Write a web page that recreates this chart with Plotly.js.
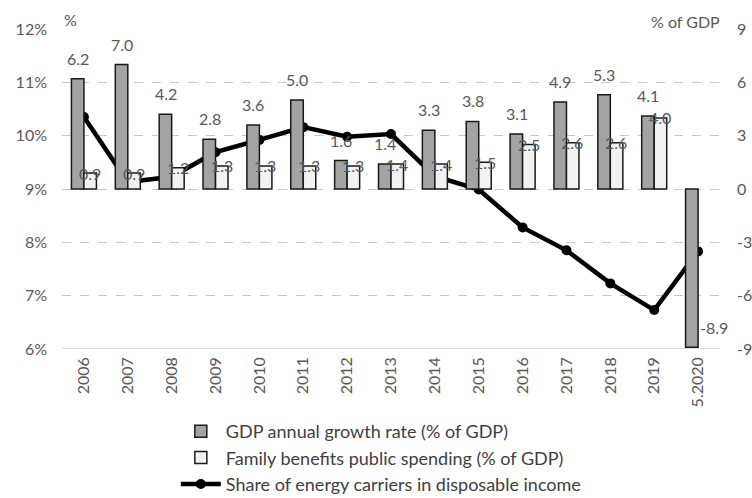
<!DOCTYPE html>
<html>
<head>
<meta charset="utf-8">
<script src="https://cdn.plot.ly/plotly-3.0.1.min.js"></script>
<style>html,body{margin:0;padding:0;background:#fff;}#chart{width:752px;height:498px;}</style>
</head>
<body>
<div id="chart"></div>
<script>
// ---- data ----
const categories = ["2006","2007","2008","2009","2010","2011","2012","2013","2014","2015","2016","2017","2018","2019","5.2020"];
const gdpGrowth = [6.2, 7.0, 4.2, 2.8, 3.6, 5.0, 1.6, 1.4, 3.3, 3.8, 3.1, 4.9, 5.3, 4.1, -8.9];
const familyBenefits = [0.9, 0.9, 1.2, 1.3, 1.3, 1.3, 1.3, 1.4, 1.4, 1.5, 2.5, 2.6, 2.6, 4.0, null];
const energyShare = [10.35, 9.13, 9.23, 9.69, 9.92, 10.16, 9.98, 10.03, 9.24, 8.99, 8.28, 7.85, 7.23, 6.73, 7.83];
const leftTicks = [6, 7, 8, 9, 10, 11, 12];
const rightTicks = [-9, -6, -3, 0, 3, 6, 9];

const FONT = "Lato, 'Open Sans', sans-serif";
const GREY = "#595959";

const traces = [
  {type: "bar", name: "GDP annual growth rate (% of GDP)", x: categories, y: gdpGrowth, yaxis: "y2",
   marker: {color: "#a3a3a3", line: {color: "#1a1a1a", width: 1.5}}, hoverinfo: "y"},
  {type: "bar", name: "Family benefits public spending (% of GDP)", x: categories, y: familyBenefits, yaxis: "y2",
   marker: {color: "#f2f2f2", line: {color: "#1a1a1a", width: 1.5}}, hoverinfo: "y"},
  {type: "scatter", mode: "lines+markers", name: "Share of energy carriers in disposable income", x: categories, y: energyShare, yaxis: "y",
   line: {color: "#000", width: 4.5}, marker: {color: "#000", size: 10}}
];

const annotations = [];
categories.forEach((c, i) => {
  const g = gdpGrowth[i];
  if (g >= 0) {
    annotations.push({x: i, y: g, xref: "x", yref: "y2", text: g.toFixed(1), showarrow: false,
      xanchor: "center", yanchor: "bottom", xshift: -6, yshift: 9, font: {family: FONT, size: 16, color: GREY}});
  } else {
    annotations.push({x: i, y: g, xref: "x", yref: "y2", text: g.toFixed(1), showarrow: false,
      xanchor: "left", yanchor: "bottom", xshift: 0, yshift: 8, font: {family: FONT, size: 16, color: GREY}});
  }
  const f = familyBenefits[i];
  if (f !== null) {
    annotations.push({x: i, y: f, xref: "x", yref: "y2", text: f.toFixed(1), showarrow: false,
      xanchor: "center", yanchor: "middle", xshift: 6, yshift: 0, font: {family: FONT, size: 16, color: GREY}});
  }
});
annotations.push({x: 0, y: 1, xref: "paper", yref: "paper", text: "%", showarrow: false,
  xanchor: "left", yanchor: "bottom", xshift: 0, yshift: -2, font: {family: FONT, size: 16, color: GREY}});
annotations.push({x: 1, y: 1, xref: "paper", yref: "paper", text: "% of GDP", showarrow: false,
  xanchor: "right", yanchor: "bottom", xshift: 2, yshift: -4, font: {family: FONT, size: 16, color: GREY}});

const layout = {
  width: 752, height: 498,
  margin: {l: 62, r: 32, t: 29, b: 149, autoexpand: false},
  paper_bgcolor: "#fff", plot_bgcolor: "#fff",
  font: {family: FONT, size: 16, color: GREY},
  barmode: "group", bargap: 0.43, bargroupgap: 0,
  showlegend: true,
  legend: {orientation: "v", x: 0.173, y: -0.2, xanchor: "left", yanchor: "top",
    font: {family: FONT, size: 18, color: "#404040"}, traceorder: "normal",
    itemwidth: 40, bgcolor: "rgba(0,0,0,0)"},
  xaxis: {type: "category", range: [-0.5, 14.5], autorange: false, tickangle: -90,
    tickfont: {family: FONT, size: 16, color: GREY},
    showgrid: false, showline: false, zeroline: false, ticks: "", ticklabelstandoff: 4},
  yaxis: {range: [6, 12], autorange: false, tickvals: leftTicks, ticktext: leftTicks.map(v => v + "%"),
    showgrid: true, gridcolor: "#c8c8c8", griddash: "dash", gridwidth: 1, zeroline: false,
    showline: false, ticks: "", ticklabelstandoff: 14, tickfont: {family: FONT, size: 16, color: GREY}},
  yaxis2: {range: [-9, 9], autorange: false, tickvals: rightTicks, ticktext: rightTicks.map(v => String(v)),
    overlaying: "y", side: "right",
    showgrid: false, zeroline: false, showline: false, ticks: "", ticklabelstandoff: 16,
    tickfont: {family: FONT, size: 16, color: GREY}},
  shapes: [{type: "line", xref: "paper", yref: "y", x0: 0, x1: 1, y0: 6, y1: 6, line: {color: "#d0d0d0", width: 1.5}, layer: "below"}],
  annotations: annotations
};

Plotly.newPlot("chart", traces, layout, {displayModeBar: false, staticPlot: true});
</script>
</body>
</html>
